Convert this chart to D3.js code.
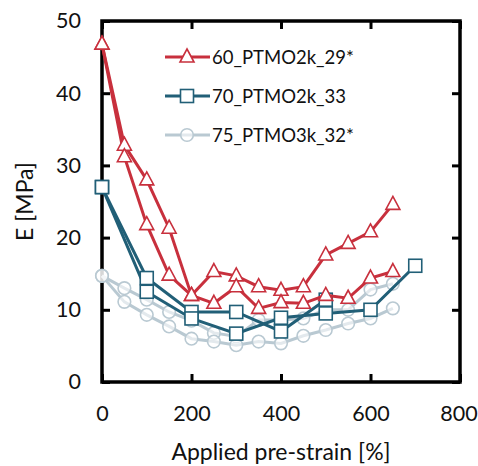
<!DOCTYPE html>
<html><head><meta charset="utf-8">
<script src="https://cdn.jsdelivr.net/npm/d3@7"></script>
<style>body{margin:0;background:#fff}</style>
</head><body>
<svg id="c" width="478" height="466"></svg>
<script>
const xTicks = [0, 200, 400, 600, 800];
const yTicks = [0, 10, 20, 30, 40, 50];
const seriesNames = ["60_PTMO2k_29*", "70_PTMO2k_33", "75_PTMO3k_32*"];

const red_x  = [0, 50, 100, 150, 200, 250, 300, 350, 400, 450, 500, 550, 600, 650];
const red_a  = [46.8, 32.8, 28.0, 21.3, 12.0, 15.3, 14.7, 13.2, 12.7, 13.2, 17.6, 19.2, 20.8, 24.6];
const red_b  = [46.8, 31.2, 21.8, 14.8, 12.0, 10.9, 13.2, 10.2, 11.0, 10.9, 12.0, 11.6, 14.4, 15.3];

const blue_xa = [0, 100, 200, 300, 400, 500];
const blue_a  = [27.0, 14.4, 9.7, 9.7, 7.0, 11.4];
const blue_xb = [0, 100, 200, 300, 400, 500, 600, 700];
const blue_b  = [27.0, 12.5, 8.8, 6.7, 8.9, 9.5, 10.0, 16.1];

const grey_x = [0, 50, 100, 150, 200, 250, 300, 350, 400, 450, 500, 550, 600, 650];
const grey_a = [14.7, 13.0, 11.4, 9.7, 8.5, 6.8, 6.3, 8.6, 8.6, 8.8, 10.0, 10.0, 12.8, 13.6];
const grey_b = [14.7, 11.1, 9.3, 7.7, 6.0, 5.6, 5.1, 5.6, 5.35, 6.4, 7.2, 8.1, 8.8, 10.2];

const colors = ["#c8303d", "#215f77", "#b9c9d2"];

const svg = d3.select("#c");
const L = 102, R = 460, T = 21, B = 382;
const x = d3.scaleLinear().domain([0, 800]).range([L, R]);
const y = d3.scaleLinear().domain([0, 50]).range([B, T]);
const font = "Lato, 'Open Sans', sans-serif";

// axes with inward ticks
const tickLen = 8;
svg.append("g").attr("transform", `translate(0,${B})`)
  .call(d3.axisBottom(x).tickValues(xTicks).tickSize(-tickLen).tickPadding(24).tickFormat(d3.format("d")));
svg.append("g").attr("transform", `translate(0,${T})`)
  .call(d3.axisTop(x).tickValues(xTicks).tickSize(-tickLen).tickFormat(""));
svg.append("g").attr("transform", `translate(${L},0)`)
  .call(d3.axisLeft(y).tickValues(yTicks).tickSize(-tickLen).tickPadding(21).tickFormat(d3.format("d")));
svg.append("g").attr("transform", `translate(${R},0)`)
  .call(d3.axisRight(y).tickValues(yTicks).tickSize(-tickLen).tickFormat(""));
svg.selectAll(".domain").remove();
svg.selectAll(".tick line").attr("stroke", "#000").attr("stroke-width", 3);
svg.selectAll(".tick text").attr("font-family", font).attr("font-size", 21.5).attr("fill", "#111");
svg.selectAll(".tick text").filter(d => d === 800).attr("dx", -1.5);
svg.append("rect").attr("x", L).attr("y", T).attr("width", R - L).attr("height", B - T)
  .attr("fill", "none").attr("stroke", "#000").attr("stroke-width", 3.5);

// axis titles
svg.append("text").attr("x", (L + R) / 2).attr("y", 460).attr("text-anchor", "middle")
  .attr("font-family", font).attr("font-size", 23).attr("fill", "#111").text("Applied pre-strain [%]");
svg.append("text").attr("transform", `translate(33,${(T + B) / 2}) rotate(-90)`).attr("text-anchor", "middle")
  .attr("font-family", font).attr("font-size", 23).attr("fill", "#111").text("E [MPa]");

const line = d3.line().x(d => x(d[0])).y(d => y(d[1]));
function zip(xs, ys) { return xs.map((v, i) => [v, ys[i]]); }

function marker(g, kind, cx, cy, color) {
  if (kind === "tri") {
    const s = 7;
    g.append("path").attr("d", `M${cx},${cy - s - 1}L${cx + s},${cy + s - 2}L${cx - s},${cy + s - 2}Z`)
      .attr("fill", "#fff").attr("stroke", color).attr("stroke-width", 1.6);
  } else if (kind === "sq") {
    const s = 6.5;
    g.append("rect").attr("x", cx - s).attr("y", cy - s).attr("width", 2 * s).attr("height", 2 * s)
      .attr("fill", "#fff").attr("stroke", color).attr("stroke-width", 1.6);
  } else {
    g.append("circle").attr("cx", cx).attr("cy", cy).attr("r", 6.3)
      .attr("fill", "#fff").attr("fill-opacity", 0.6).attr("stroke", color).attr("stroke-width", 1.6);
  }
}

function drawSeries(curves, color, kind) {
  const g = svg.append("g");
  curves.forEach(c => {
    g.append("path").datum(c).attr("d", line).attr("fill", "none").attr("stroke", color).attr("stroke-width", 3);
  });
  curves.forEach(c => c.forEach(d => marker(g, kind, x(d[0]), y(d[1]), color)));
}

drawSeries([zip(grey_x, grey_a), zip(grey_x, grey_b)], colors[2], "circ");
drawSeries([zip(blue_xa, blue_a), zip(blue_xb, blue_b)], colors[1], "sq");
drawSeries([zip(red_x, red_a), zip(red_x, red_b)], colors[0], "tri");

// legend
const kinds = ["tri", "sq", "circ"];
const legY = [57, 96, 135];
seriesNames.forEach((n, i) => {
  const g = svg.append("g");
  g.append("line").attr("x1", 165).attr("x2", 210).attr("y1", legY[i]).attr("y2", legY[i])
    .attr("stroke", colors[i]).attr("stroke-width", 3);
  marker(g, kinds[i], 187, legY[i], colors[i]);
  g.append("text").attr("x", 212).attr("y", legY[i] + 7).attr("font-family", font).attr("font-size", 18.5)
    .attr("fill", "#111").text(n);
});
</script>
</body></html>
